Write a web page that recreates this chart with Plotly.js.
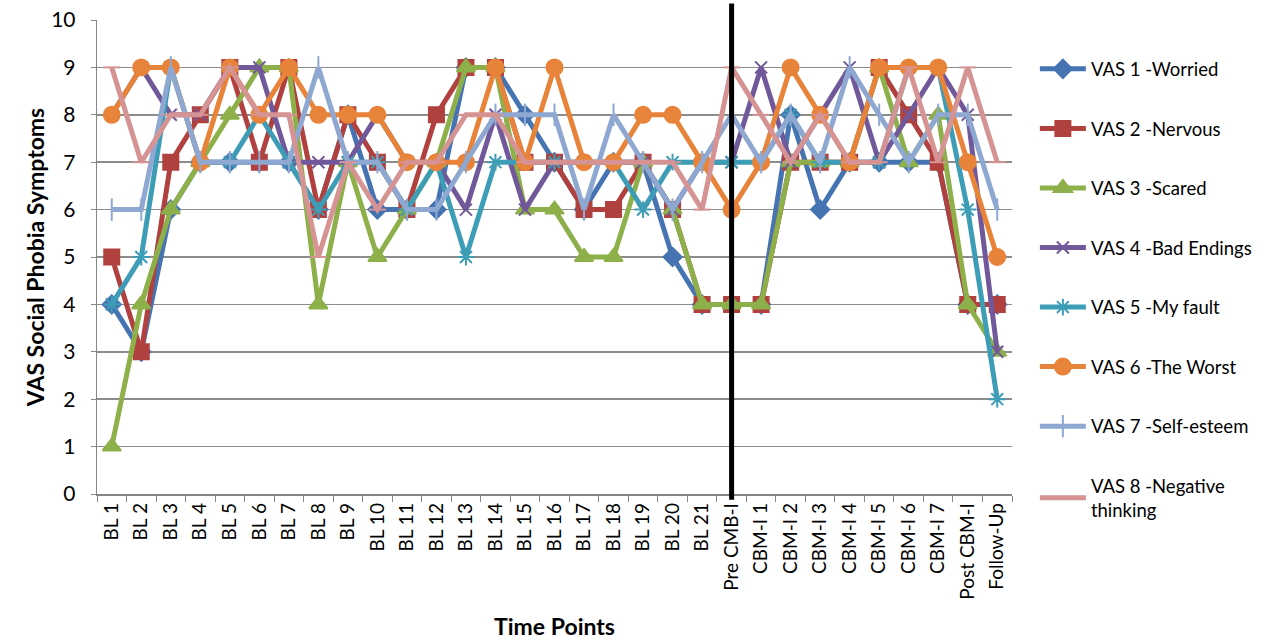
<!DOCTYPE html>
<html>
<head>
<meta charset="utf-8">
<script src="https://cdn.plot.ly/plotly-3.0.1.min.js"></script>
<style>
  html, body { margin: 0; padding: 0; background: #ffffff; }
  #chart { width: 1277px; height: 643px; }
</style>
</head>
<body>
<div id="chart"></div>
<script>
// Time points on the x axis
const timePoints = [
  "BL 1", "BL 2", "BL 3", "BL 4", "BL 5", "BL 6", "BL 7", "BL 8", "BL 9", "BL 10",
  "BL 11", "BL 12", "BL 13", "BL 14", "BL 15", "BL 16", "BL 17", "BL 18", "BL 19", "BL 20",
  "BL 21", "Pre CMB-I", "CBM-I 1", "CBM-I 2", "CBM-I 3", "CBM-I 4", "CBM-I 5", "CBM-I 6",
  "CBM-I 7", "Post CBM-I", "Follow-Up"
];

// VAS ratings per symptom
const vas1Worried      = [4,3,6,7,7,7,7,6,8,6, 6,6,9,9,8,7,6,7,7,5, 4,4,4,8,6,7,7,7,7,4,4];
const vas2Nervous      = [5,3,7,8,9,7,9,6,8,7, 6,8,9,9,7,7,6,6,7,6, 4,4,4,7,7,7,9,8,7,4,4];
const vas3Scared       = [1,4,6,7,8,9,9,4,7,5, 6,7,9,9,6,6,5,5,7,6, 4,4,4,7,7,7,9,7,8,4,3];
const vas4BadEndings   = [8,9,8,8,9,9,7,7,7,8, 7,7,6,8,6,7,7,7,7,6, 7,7,9,7,8,9,7,8,9,8,3];
const vas5MyFault      = [4,5,9,7,7,8,7,6,7,7, 6,7,5,7,7,7,7,7,6,7, 7,7,7,8,7,7,7,9,9,6,2];
const vas6TheWorst     = [8,9,9,7,9,8,9,8,8,8, 7,7,7,9,7,9,7,7,8,8, 7,6,7,9,8,7,9,9,9,7,5];
const vas7SelfEsteem   = [6,6,9,7,7,7,7,9,7,7, 6,6,7,8,8,8,6,8,7,6, 7,8,7,8,7,9,8,7,8,8,6];
const vas8NegThinking  = [9,7,8,8,9,8,8,5,7,6, 7,7,8,8,7,7,7,7,7,7, 6,9,8,7,8,7,7,9,7,9,7];

const seriesNames = [
  "VAS 1 -Worried", "VAS 2 -Nervous", "VAS 3 -Scared", "VAS 4 -Bad Endings",
  "VAS 5 -My fault", "VAS 6 -The Worst", "VAS 7 -Self-esteem", "VAS 8 -Negative<br>thinking"
];
const yTicks = [0,1,2,3,4,5,6,7,8,9,10];
const phaseBoundary = "Pre CMB-I";

const seriesValues = [vas1Worried, vas2Nervous, vas3Scared, vas4BadEndings,
                      vas5MyFault, vas6TheWorst, vas7SelfEsteem, vas8NegThinking];

const styles = [
  {color: "#4674B2", symbol: "diamond", size: 14},
  {color: "#B0413E", symbol: "square", size: 15},
  {color: "#8DB04A", symbol: "triangle-up", size: 16},
  {color: "#71589A", symbol: "x-thin-open", size: 12},
  {color: "#3E9DB6", symbol: "asterisk-open", size: 14},
  {color: "#E8833A", symbol: "circle", size: 16},
  {color: "#8EA8D2", symbol: "line-ns-open", size: 16},
  {color: "#D69393", symbol: "line-ew-open", size: 12}
];

const traces = seriesValues.map((vals, i) => ({
  type: "scatter",
  mode: "lines+markers",
  name: seriesNames[i],
  legendgroup: "g" + i,
  x: timePoints,
  y: vals,
  line: {color: styles[i].color, width: 5},
  marker: {
    symbol: styles[i].symbol,
    size: styles[i].size,
    color: styles[i].color,
    line: {color: styles[i].color, width: 2}
  }
}));

const fontFamily = "Lato, 'Open Sans', 'Liberation Sans', sans-serif";

const layout = {
  width: 1277,
  height: 643,
  margin: {l: 97, r: 265, t: 20, b: 149},
  paper_bgcolor: "#ffffff",
  plot_bgcolor: "#ffffff",
  font: {family: fontFamily, color: "#000000"},
  showlegend: true,
  legend: {
    x: 1.025, xanchor: "left",
    y: 0.936, yanchor: "top",
    font: {size: 18.5, family: fontFamily, color: "#000000"},
    tracegroupgap: 32.5,
    itemwidth: 46,
    bgcolor: "rgba(0,0,0,0)"
  },
  xaxis: {
    type: "category",
    categoryorder: "array",
    categoryarray: timePoints,
    range: [-0.5, timePoints.length - 0.5],
    tickangle: -90,
    tickfont: {size: 19, family: fontFamily},
    ticks: "outside",
    tickson: "boundaries",
    ticklen: 6,
    tickcolor: "#868686",
    showline: true,
    linecolor: "#868686",
    linewidth: 1.5,
    showgrid: false,
    zeroline: false,
    title: {text: "<b>Time Points</b>", font: {size: 23, family: fontFamily}, standoff: 20}
  },
  yaxis: {
    range: [0, 10],
    tickvals: yTicks,
    // trailing no-break spaces keep the labels clear of the axis
    ticktext: yTicks.map(v => String(v) + "\u00a0\u00a0"),
    tickfont: {size: 21, family: fontFamily},
    ticks: "outside",
    ticklen: 5,
    tickcolor: "#868686",
    showline: true,
    linecolor: "#868686",
    linewidth: 1.5,
    showgrid: true,
    gridcolor: "#8c8c8c",
    gridwidth: 1.5,
    zeroline: false,
    title: {text: "<b>VAS Social Phobia Symptoms</b>", font: {size: 23, family: fontFamily}, standoff: 0}
  },
  shapes: [{
    type: "line",
    xref: "x", yref: "paper",
    x0: timePoints.indexOf(phaseBoundary), x1: timePoints.indexOf(phaseBoundary),
    y0: -0.012, y1: 1.035,
    line: {color: "#000000", width: 5},
    layer: "above"
  }]
};

Plotly.newPlot("chart", traces, layout, {displayModeBar: false, staticPlot: true});
</script>
</body>
</html>
